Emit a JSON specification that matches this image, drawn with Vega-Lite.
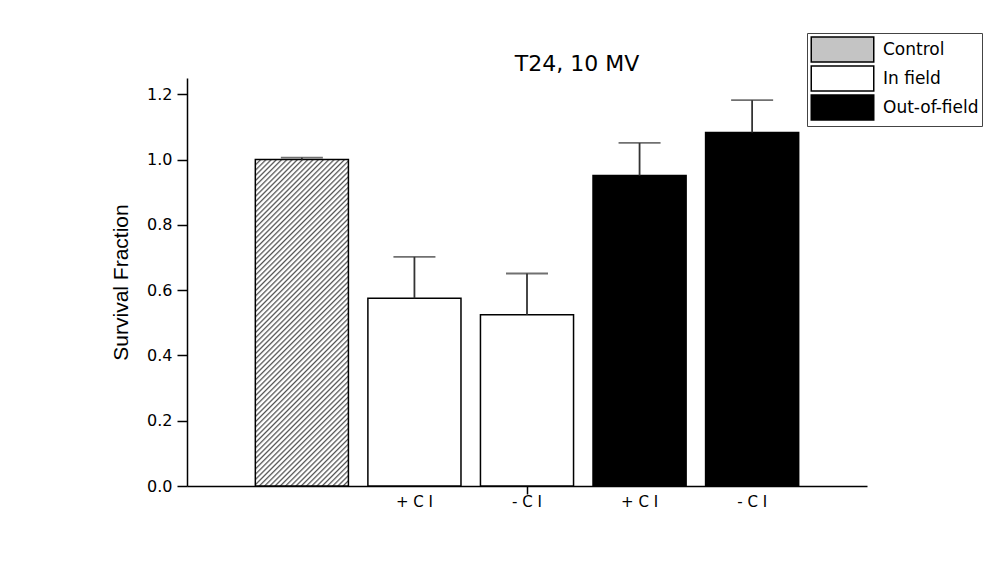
{
  "$schema": "https://vega.github.io/schema/vega-lite/v6.json",
  "autosize": {"type": "none"},
  "width": 680,
  "height": 408,
  "padding": {"left": 187, "top": 78, "right": 125, "bottom": 87},
  "background": "white",
  "title": {"text": "T24, 10 MV", "anchor": "middle", "dx": 50, "dy": 65, "offset": 5, "baseline": "alphabetic", "font": "DejaVu Sans", "fontSize": 22, "fontWeight": "normal", "color": "black"},
  "config": {
    "view": {"stroke": null},
    "axis": {"domainColor": "black", "domainWidth": 1.5, "tickColor": "black", "tickWidth": 1.5, "labelColor": "black", "grid": false}
  },
  "data": {"values": [
    {"key": "Control|", "group": "Control", "value": 1.0, "upper": 1.006},
    {"key": "In field|+ C I", "group": "In field", "value": 0.575, "upper": 0.702},
    {"key": "In field|- C I", "group": "In field", "value": 0.525, "upper": 0.651},
    {"key": "Out-of-field|+ C I", "group": "Out-of-field", "value": 0.951, "upper": 1.051},
    {"key": "Out-of-field|- C I", "group": "Out-of-field", "value": 1.083, "upper": 1.182}
  ]},
  "encoding": {
    "x": {"field": "key", "type": "nominal", "sort": null,
      "scale": {"type": "band", "paddingInner": 0.173, "paddingOuter": 0.607},
      "axis": {"title": null, "labelAngle": 0, "labelExpr": "split(datum.label, '|')[1]", "labelFont": "DejaVu Sans", "labelFontSize": 15, "tickSize": 8, "labelPadding": 0,
        "tickOpacity": {"condition": {"test": "datum.value === 'In field|- C I'", "value": 1}, "value": 0}}}
  },
  "layer": [
    {
      "mark": {"type": "bar", "stroke": "black", "strokeWidth": 1.5},
      "encoding": {
        "y": {"field": "value", "type": "quantitative", "scale": {"domain": [0, 1.25], "nice": false, "zero": true},
          "axis": {"title": "Survival Fraction", "titleFont": "Liberation Sans", "titleFontSize": 21, "titleFontWeight": "normal", "titleColor": "black", "titlePadding": 15,
            "values": [0, 0.1, 0.2, 0.3, 0.4, 0.5, 0.6, 0.7, 0.8, 0.9, 1.0, 1.1, 1.2],
            "labelExpr": "round(datum.value*10) % 2 === 0 ? format(datum.value, '.1f') : ''",
            "labelFont": "DejaVu Sans", "labelFontSize": 16, "labelPadding": 5,
            "tickSize": {"condition": {"test": "round(datum.value*10) % 2 === 0", "value": 10}, "value": 5}}},
        "fill": {
          "condition": {"test": "datum.group === 'Control'", "value": {"gradient": "linear", "x1": 0, "y1": 0, "x2": 0.339, "y2": 1.188, "stops": [
{"offset":0,"color":"#555"},{"offset":0.005,"color":"#fff"},{"offset":0.009,"color":"#fff"},
{"offset":0.0125,"color":"#555"},{"offset":0.0175,"color":"#fff"},{"offset":0.0215,"color":"#fff"},
{"offset":0.025,"color":"#555"},{"offset":0.03,"color":"#fff"},{"offset":0.034,"color":"#fff"},
{"offset":0.0375,"color":"#555"},{"offset":0.0425,"color":"#fff"},{"offset":0.0465,"color":"#fff"},
{"offset":0.05,"color":"#555"},{"offset":0.055,"color":"#fff"},{"offset":0.059,"color":"#fff"},
{"offset":0.0625,"color":"#555"},{"offset":0.0675,"color":"#fff"},{"offset":0.0715,"color":"#fff"},
{"offset":0.075,"color":"#555"},{"offset":0.08,"color":"#fff"},{"offset":0.084,"color":"#fff"},
{"offset":0.0875,"color":"#555"},{"offset":0.0925,"color":"#fff"},{"offset":0.0965,"color":"#fff"},
{"offset":0.1,"color":"#555"},{"offset":0.105,"color":"#fff"},{"offset":0.109,"color":"#fff"},
{"offset":0.1125,"color":"#555"},{"offset":0.1175,"color":"#fff"},{"offset":0.1215,"color":"#fff"},
{"offset":0.125,"color":"#555"},{"offset":0.13,"color":"#fff"},{"offset":0.134,"color":"#fff"},
{"offset":0.1375,"color":"#555"},{"offset":0.1425,"color":"#fff"},{"offset":0.1465,"color":"#fff"},
{"offset":0.15,"color":"#555"},{"offset":0.155,"color":"#fff"},{"offset":0.159,"color":"#fff"},
{"offset":0.1625,"color":"#555"},{"offset":0.1675,"color":"#fff"},{"offset":0.1715,"color":"#fff"},
{"offset":0.175,"color":"#555"},{"offset":0.18,"color":"#fff"},{"offset":0.184,"color":"#fff"},
{"offset":0.1875,"color":"#555"},{"offset":0.1925,"color":"#fff"},{"offset":0.1965,"color":"#fff"},
{"offset":0.2,"color":"#555"},{"offset":0.205,"color":"#fff"},{"offset":0.209,"color":"#fff"},
{"offset":0.2125,"color":"#555"},{"offset":0.2175,"color":"#fff"},{"offset":0.2215,"color":"#fff"},
{"offset":0.225,"color":"#555"},{"offset":0.23,"color":"#fff"},{"offset":0.234,"color":"#fff"},
{"offset":0.2375,"color":"#555"},{"offset":0.2425,"color":"#fff"},{"offset":0.2465,"color":"#fff"},
{"offset":0.25,"color":"#555"},{"offset":0.255,"color":"#fff"},{"offset":0.259,"color":"#fff"},
{"offset":0.2625,"color":"#555"},{"offset":0.2675,"color":"#fff"},{"offset":0.2715,"color":"#fff"},
{"offset":0.275,"color":"#555"},{"offset":0.28,"color":"#fff"},{"offset":0.284,"color":"#fff"},
{"offset":0.2875,"color":"#555"},{"offset":0.2925,"color":"#fff"},{"offset":0.2965,"color":"#fff"},
{"offset":0.3,"color":"#555"},{"offset":0.305,"color":"#fff"},{"offset":0.309,"color":"#fff"},
{"offset":0.3125,"color":"#555"},{"offset":0.3175,"color":"#fff"},{"offset":0.3215,"color":"#fff"},
{"offset":0.325,"color":"#555"},{"offset":0.33,"color":"#fff"},{"offset":0.334,"color":"#fff"},
{"offset":0.3375,"color":"#555"},{"offset":0.3425,"color":"#fff"},{"offset":0.3465,"color":"#fff"},
{"offset":0.35,"color":"#555"},{"offset":0.355,"color":"#fff"},{"offset":0.359,"color":"#fff"},
{"offset":0.3625,"color":"#555"},{"offset":0.3675,"color":"#fff"},{"offset":0.3715,"color":"#fff"},
{"offset":0.375,"color":"#555"},{"offset":0.38,"color":"#fff"},{"offset":0.384,"color":"#fff"},
{"offset":0.3875,"color":"#555"},{"offset":0.3925,"color":"#fff"},{"offset":0.3965,"color":"#fff"},
{"offset":0.4,"color":"#555"},{"offset":0.405,"color":"#fff"},{"offset":0.409,"color":"#fff"},
{"offset":0.4125,"color":"#555"},{"offset":0.4175,"color":"#fff"},{"offset":0.4215,"color":"#fff"},
{"offset":0.425,"color":"#555"},{"offset":0.43,"color":"#fff"},{"offset":0.434,"color":"#fff"},
{"offset":0.4375,"color":"#555"},{"offset":0.4425,"color":"#fff"},{"offset":0.4465,"color":"#fff"},
{"offset":0.45,"color":"#555"},{"offset":0.455,"color":"#fff"},{"offset":0.459,"color":"#fff"},
{"offset":0.4625,"color":"#555"},{"offset":0.4675,"color":"#fff"},{"offset":0.4715,"color":"#fff"},
{"offset":0.475,"color":"#555"},{"offset":0.48,"color":"#fff"},{"offset":0.484,"color":"#fff"},
{"offset":0.4875,"color":"#555"},{"offset":0.4925,"color":"#fff"},{"offset":0.4965,"color":"#fff"},
{"offset":0.5,"color":"#555"},{"offset":0.505,"color":"#fff"},{"offset":0.509,"color":"#fff"},
{"offset":0.5125,"color":"#555"},{"offset":0.5175,"color":"#fff"},{"offset":0.5215,"color":"#fff"},
{"offset":0.525,"color":"#555"},{"offset":0.53,"color":"#fff"},{"offset":0.534,"color":"#fff"},
{"offset":0.5375,"color":"#555"},{"offset":0.5425,"color":"#fff"},{"offset":0.5465,"color":"#fff"},
{"offset":0.55,"color":"#555"},{"offset":0.555,"color":"#fff"},{"offset":0.559,"color":"#fff"},
{"offset":0.5625,"color":"#555"},{"offset":0.5675,"color":"#fff"},{"offset":0.5715,"color":"#fff"},
{"offset":0.575,"color":"#555"},{"offset":0.58,"color":"#fff"},{"offset":0.584,"color":"#fff"},
{"offset":0.5875,"color":"#555"},{"offset":0.5925,"color":"#fff"},{"offset":0.5965,"color":"#fff"},
{"offset":0.6,"color":"#555"},{"offset":0.605,"color":"#fff"},{"offset":0.609,"color":"#fff"},
{"offset":0.6125,"color":"#555"},{"offset":0.6175,"color":"#fff"},{"offset":0.6215,"color":"#fff"},
{"offset":0.625,"color":"#555"},{"offset":0.63,"color":"#fff"},{"offset":0.634,"color":"#fff"},
{"offset":0.6375,"color":"#555"},{"offset":0.6425,"color":"#fff"},{"offset":0.6465,"color":"#fff"},
{"offset":0.65,"color":"#555"},{"offset":0.655,"color":"#fff"},{"offset":0.659,"color":"#fff"},
{"offset":0.6625,"color":"#555"},{"offset":0.6675,"color":"#fff"},{"offset":0.6715,"color":"#fff"},
{"offset":0.675,"color":"#555"},{"offset":0.68,"color":"#fff"},{"offset":0.684,"color":"#fff"},
{"offset":0.6875,"color":"#555"},{"offset":0.6925,"color":"#fff"},{"offset":0.6965,"color":"#fff"},
{"offset":0.7,"color":"#555"},{"offset":0.705,"color":"#fff"},{"offset":0.709,"color":"#fff"},
{"offset":0.7125,"color":"#555"},{"offset":0.7175,"color":"#fff"},{"offset":0.7215,"color":"#fff"},
{"offset":0.725,"color":"#555"},{"offset":0.73,"color":"#fff"},{"offset":0.734,"color":"#fff"},
{"offset":0.7375,"color":"#555"},{"offset":0.7425,"color":"#fff"},{"offset":0.7465,"color":"#fff"},
{"offset":0.75,"color":"#555"},{"offset":0.755,"color":"#fff"},{"offset":0.759,"color":"#fff"},
{"offset":0.7625,"color":"#555"},{"offset":0.7675,"color":"#fff"},{"offset":0.7715,"color":"#fff"},
{"offset":0.775,"color":"#555"},{"offset":0.78,"color":"#fff"},{"offset":0.784,"color":"#fff"},
{"offset":0.7875,"color":"#555"},{"offset":0.7925,"color":"#fff"},{"offset":0.7965,"color":"#fff"},
{"offset":0.8,"color":"#555"},{"offset":0.805,"color":"#fff"},{"offset":0.809,"color":"#fff"},
{"offset":0.8125,"color":"#555"},{"offset":0.8175,"color":"#fff"},{"offset":0.8215,"color":"#fff"},
{"offset":0.825,"color":"#555"},{"offset":0.83,"color":"#fff"},{"offset":0.834,"color":"#fff"},
{"offset":0.8375,"color":"#555"},{"offset":0.8425,"color":"#fff"},{"offset":0.8465,"color":"#fff"},
{"offset":0.85,"color":"#555"},{"offset":0.855,"color":"#fff"},{"offset":0.859,"color":"#fff"},
{"offset":0.8625,"color":"#555"},{"offset":0.8675,"color":"#fff"},{"offset":0.8715,"color":"#fff"},
{"offset":0.875,"color":"#555"},{"offset":0.88,"color":"#fff"},{"offset":0.884,"color":"#fff"},
{"offset":0.8875,"color":"#555"},{"offset":0.8925,"color":"#fff"},{"offset":0.8965,"color":"#fff"},
{"offset":0.9,"color":"#555"},{"offset":0.905,"color":"#fff"},{"offset":0.909,"color":"#fff"},
{"offset":0.9125,"color":"#555"},{"offset":0.9175,"color":"#fff"},{"offset":0.9215,"color":"#fff"},
{"offset":0.925,"color":"#555"},{"offset":0.93,"color":"#fff"},{"offset":0.934,"color":"#fff"},
{"offset":0.9375,"color":"#555"},{"offset":0.9425,"color":"#fff"},{"offset":0.9465,"color":"#fff"},
{"offset":0.95,"color":"#555"},{"offset":0.955,"color":"#fff"},{"offset":0.959,"color":"#fff"},
{"offset":0.9625,"color":"#555"},{"offset":0.9675,"color":"#fff"},{"offset":0.9715,"color":"#fff"},
{"offset":0.975,"color":"#555"},{"offset":0.98,"color":"#fff"},{"offset":0.984,"color":"#fff"},
{"offset":0.9875,"color":"#555"},{"offset":0.9925,"color":"#fff"},{"offset":0.9965,"color":"#fff"},
{"offset":1,"color":"#555"}
]}},
          "field": "group", "type": "nominal",
          "scale": {"domain": ["Control", "In field", "Out-of-field"], "range": ["#c4c4c4", "white", "black"]},
          "legend": {"title": null, "orient": "none", "legendX": 620, "legendY": -45, "direction": "vertical",
            "symbolType": "M-2.5,-1H2.5V1H-2.5Z", "symbolSize": 625, "symbolStrokeColor": "black", "symbolStrokeWidth": 1.5,
            "symbolOffset": 19, "labelOffset": 27, "labelFont": "DejaVu Sans", "labelFontSize": 17, "labelColor": "black", "labelLimit": 300,
            "rowPadding": -8, "padding": 3, "strokeColor": "#444", "fillColor": "white",
            "encode": {"symbols": {"update": {
              "stroke": {"value": "black"},
              "strokeWidth": {"value": 1.5}
            }}}
          }
        }
      }
    },
    {
      "mark": {"type": "rule", "color": "#333", "strokeWidth": 1.8},
      "encoding": {
        "y": {"field": "value", "type": "quantitative"},
        "y2": {"field": "upper"}
      }
    },
    {
      "mark": {"type": "tick", "color": "#333", "thickness": 1.8, "size": 42},
      "encoding": {
        "y": {"field": "upper", "type": "quantitative"}
      }
    }
  ]
}
